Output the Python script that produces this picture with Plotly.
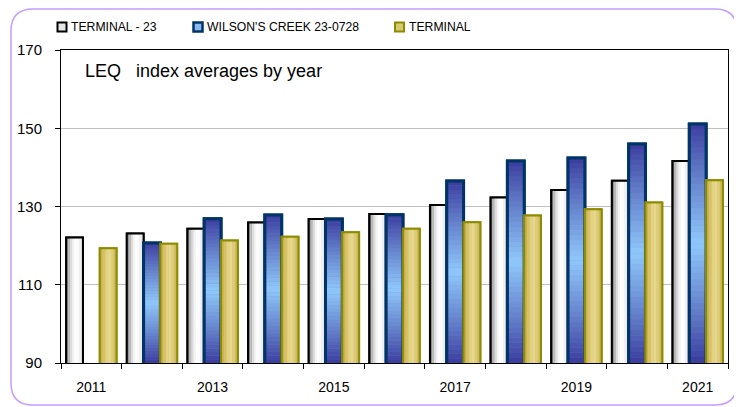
import plotly.graph_objects as go

# ---------------- data ----------------
years = ["2011", "2012", "2013", "2014", "2015", "2016", "2017", "2018", "2019", "2020", "2021"]
x_tick_text = ["2011", "", "2013", "", "2015", "", "2017", "", "2019", "", "2021"]
terminal_23 = [122.1, 123.1, 124.3, 125.9, 126.8, 128.1, 130.4, 132.3, 134.2, 136.6, 141.6]
wilsons_creek = [None, 120.7, 126.9, 127.8, 126.8, 127.9, 136.5, 141.6, 142.4, 146.0, 151.1]
terminal = [119.3, 120.5, 121.3, 122.3, 123.4, 124.3, 126.0, 127.7, 129.3, 131.0, 136.7]
y_ticks = [90, 110, 130, 150, 170]
series_names = ["TERMINAL - 23", "WILSON'S CREEK 23-0728", "TERMINAL"]
title_text = "LEQ\u00a0\u00a0 index averages by year"

# ---------------- layout constants ----------------
W, H = 742, 407
PAGE = 8                      # default body margin of the html page
PL, PT, PR, PB = 61, 50, 728, 363   # plot area in page pixels
ML, MT = PL - PAGE, PT - PAGE
PW, PH = PR - PL, PB - PT
MR, MB = W - ML - PW, H - MT - PH
Y0, Y1 = 90, 170
BW = 0.277
offsets = [-0.415, -0.138, 0.139]
NARROW = "Liberation Sans Narrow, Liberation Sans, Arial, sans-serif"
REGULAR = "Liberation Sans, Arial, sans-serif"


def px(x):
    return (x - PL) / PW


def py(y):
    return (PB - y) / PH


fig = go.Figure()


def stripes(vals, off, colors, legend_name, base_color, line_color, line_width):
    fig.add_trace(go.Bar(x=years, y=vals, offset=off, width=BW, name=legend_name,
                         marker=dict(color=base_color, line=dict(color=line_color, width=line_width)),
                         hoverinfo="skip"))
    n = len(colors)
    for i, c in enumerate(colors):
        fig.add_trace(go.Bar(x=years, y=vals, offset=off + i * BW / n, width=BW / n,
                             marker=dict(color=c, line=dict(width=0)), hoverinfo="skip"))
    fig.add_trace(go.Bar(x=years, y=vals, offset=off, width=BW, name=legend_name,
                         marker=dict(color="rgba(0,0,0,0)", line=dict(color=line_color, width=line_width)),
                         hoverinfo="x+y+name"))


# TERMINAL - 23 : horizontal grey/white gradient
stripes(terminal_23, offsets[0],
        ["#8c8c8c", "#b8b8b8", "#dcdcdc", "#f4f4f4", "#ffffff", "#fbfbfb", "#f0f0f0", "#e4e4e4"],
        series_names[0], "#eeeeee", "#000000", 2)

# WILSON'S CREEK : vertical blue gradient (dark - light - dark)
dark = (58, 58, 156)
light = (144, 200, 250)
fig.add_trace(go.Bar(x=years, y=wilsons_creek, offset=offsets[1], width=BW, name=series_names[1],
                     marker=dict(color="#6a8ad8", line=dict(color="#003366", width=3)),
                     hoverinfo="skip"))
NB = 40
for k in range(NB):
    t = (k + 0.5) / NB
    f = max(0.0, 1 - abs(2 * t - 1)) ** 0.9
    col = "rgb(%d,%d,%d)" % tuple(round(d + (l - d) * f) for d, l in zip(dark, light))
    bases = [None if v is None else Y0 + (v - Y0) * k / NB for v in wilsons_creek]
    lens = [None if v is None else (v - Y0) / NB * 1.05 for v in wilsons_creek]
    fig.add_trace(go.Bar(x=years, y=lens, base=bases, offset=offsets[1], width=BW,
                         marker=dict(color=col, line=dict(width=0)), hoverinfo="skip"))
fig.add_trace(go.Bar(x=years, y=wilsons_creek, offset=offsets[1], width=BW, name=series_names[1],
                     marker=dict(color="rgba(0,0,0,0)", line=dict(color="#003366", width=3)),
                     hoverinfo="x+y+name"))

# TERMINAL : golden gradient
stripes(terminal, offsets[2],
        ["#c8b150", "#d6c168", "#e2d282", "#e6d88e", "#dccb78", "#cfb95e"],
        series_names[2], "#d8c470", "#8c8c00", 2)

# rounded lavender border around the whole chart
L, R, T, B, r = 11, 737, PAGE + 1, 405, 22
path = (f"M {px(L + r)},{py(T)} L {px(R - r)},{py(T)} Q {px(R)},{py(T)} {px(R)},{py(T + r)} "
        f"L {px(R)},{py(B - r)} Q {px(R)},{py(B)} {px(R - r)},{py(B)} "
        f"L {px(L + r)},{py(B)} Q {px(L)},{py(B)} {px(L)},{py(B - r)} "
        f"L {px(L)},{py(T + r)} Q {px(L)},{py(T)} {px(L + r)},{py(T)} Z")
fig.add_shape(type="path", path=path, xref="paper", yref="paper",
              line=dict(color="#c59cff", width=1.5), fillcolor="rgba(0,0,0,0)", layer="below")

# title inside the plot
fig.add_annotation(text=title_text, xref="paper", yref="paper", x=px(83), y=py(71),
                   xanchor="left", yanchor="middle", showarrow=False,
                   font=dict(family=REGULAR, size=18, color="#000000"))

# legend (symbols + labels)
legend_items = [
    (series_names[0], 57.5, 70, "#e6e6e6", "#000000", 2),
    (series_names[1], 193.5, 206, "#8ab8f0", "#003366", 2.5),
    (series_names[2], 395, 408, "#d8c870", "#8c8c00", 2),
]
LY = 27
for name, sx, tx, fc, lc, lw in legend_items:
    fig.add_shape(type="rect", xref="paper", yref="paper",
                  x0=px(sx), x1=px(sx + 9), y0=py(LY + 4.5), y1=py(LY - 4.5),
                  fillcolor=fc, line=dict(color=lc, width=lw))
    fig.add_annotation(text=name, xref="paper", yref="paper", x=px(tx - 1), y=py(LY),
                       xanchor="left", yanchor="middle", showarrow=False,
                       font=dict(family=NARROW, size=12.2, color="#000000"))

fig.update_layout(
    width=W, height=H,
    margin=dict(l=ML, r=MR, t=MT, b=MB, autoexpand=False),
    paper_bgcolor="#ffffff", plot_bgcolor="#ffffff",
    barmode="overlay",
    showlegend=False,
    xaxis=dict(type="category", categoryorder="array", categoryarray=years, range=[-0.5, 10.5],
               tickmode="array", tickvals=years, ticktext=x_tick_text,
               tickson="boundaries", ticks="outside", ticklen=5, tickcolor="#000000",
               showline=True, linecolor="#000000", linewidth=1, mirror=True,
               showgrid=False, ticklabelstandoff=11,
               tickfont=dict(family=NARROW, size=14, color="#000000")),
    yaxis=dict(range=[Y0, Y1], tickmode="array", tickvals=y_ticks,
               ticks="outside", ticklen=5, tickcolor="#000000",
               showline=True, linecolor="#000000", linewidth=1, mirror=True,
               showgrid=True, gridcolor="#c0c0c0", gridwidth=1, zeroline=False,
               ticklabelstandoff=10,
               tickfont=dict(family=NARROW, size=15, color="#000000")),
)

fig.write_html("out.html")
